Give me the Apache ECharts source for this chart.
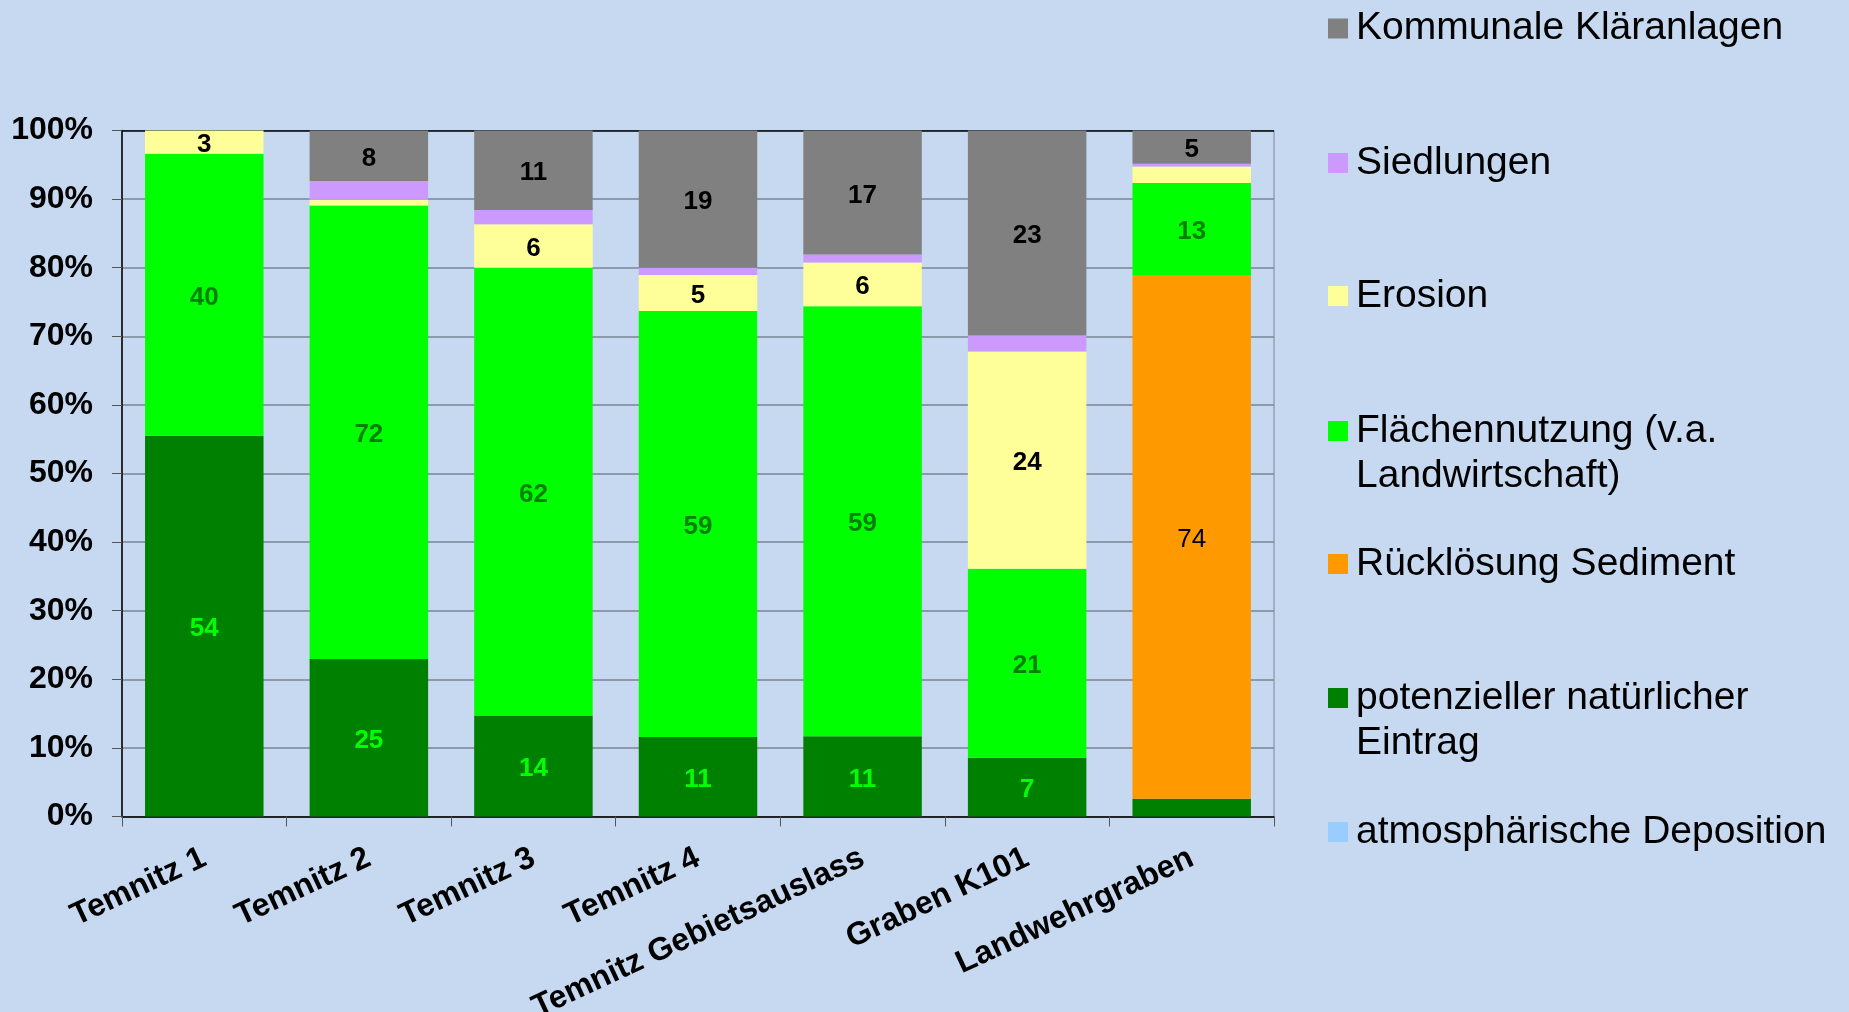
<!DOCTYPE html>
<html><head><meta charset="utf-8">
<script src="https://cdn.jsdelivr.net/npm/echarts@6/dist/echarts.min.js"></script>
<style>html,body{margin:0;padding:0;background:#C6D9F0;}#c{width:1849px;height:1012px;}</style>
</head><body><div id="c"></div><script>
// Categories (x axis)
const categories = ['Temnitz 1','Temnitz 2','Temnitz 3','Temnitz 4','Temnitz Gebietsauslass','Graben K101','Landwehrgraben'];
// Series names (bottom of stack to top)
const seriesNames = ['atmosphärische Deposition','potenzieller natürlicher Eintrag','Rücklösung Sediment','Flächennutzung (v.a. Landwirtschaft)','Erosion','Siedlungen','Kommunale Kläranlagen'];
// Raw contributions (shown 100% stacked)
const atmosDeposition = [0, 0, 0, 0, 0, 0, 0];
const naturalInput    = [54, 25, 14, 11, 11, 6.6, 2.5];
const sediment        = [0, 0, 0, 0, 0, 0, 74];
const landUse         = [40, 72, 62, 59, 59, 21.2, 13];
const erosion         = [3.3, 0.9, 6, 5, 6, 24.4, 2.3];
const settlements     = [0, 3, 2, 1, 1.1, 1.8, 0.4];
const sewagePlants    = [0, 8, 11, 19, 17, 23, 4.7];
// Y tick labels
const yTicks = [0,10,20,30,40,50,60,70,80,90,100];

const raw = [atmosDeposition, naturalInput, sediment, landUse, erosion, settlements, sewagePlants];
const colors = ['#99CCFF','#008000','#FF9900','#00FF00','#FFFF99','#CC99FF','#808080'];
const labelColors = ['#000','#00FF00','#000','#008000','#000','#000','#000'];
const labelBold = [true,true,false,true,true,true,true];
const labelShown = [false,true,true,true,true,false,true];
const totals = categories.map((c,i)=>raw.reduce((s,a)=>s+a[i],0));

const FONT = "'Liberation Sans', Arial, Helvetica, sans-serif";

const series = seriesNames.map((name,k)=>({
  name, type:'bar', stack:'all', barWidth:'72%',
  itemStyle:{color:colors[k]},
  data: raw[k].map((v,i)=>v/totals[i]*100),
  label:{show:labelShown[k], position:'inside', offset:[0,3], fontFamily:FONT, fontSize:26,
    fontWeight: labelBold[k]?'bold':'normal', color:labelColors[k],
    formatter:(p)=>{const v=raw[k][p.dataIndex]; return v>=3?String(Math.round(v)):'';}}
}));

// legend layout (order top to bottom as in reference)
const legendOrder = [6,5,4,3,2,1,0];
const legendCenters = [28.5,163,296,431,564,698,832];
const twoLine = {3:'Flächennutzung (v.a.\nLandwirtschaft)', 1:'potenzieller natürlicher\nEintrag'};
const legends = legendOrder.map((k,j)=>{
  const multi = twoLine[k]!==undefined;
  const lh = 45;
  const h = multi ? 2*lh : lh;
  return {
    show:true, orient:'vertical', left:1328, top: legendCenters[j]-lh/2, padding:0,
    selectedMode:false, itemWidth:23, itemHeight:h,
    icon:'path://M0,0L0.01,0Z M0,12.5H20V32.5H0Z M23,'+h+'L23.01,'+h+'Z',
    itemStyle:{borderWidth:0},
    data:[seriesNames[k]],
    formatter:(n)=>multi?twoLine[k]:n,
    textStyle:{fontFamily:FONT, fontSize:39, color:'#000', lineHeight:lh}
  };
});

const splitColors = yTicks.map((t,i)=> i===yTicks.length-1 ? '#000' : '#7a8494');

const chart = echarts.init(document.getElementById('c'), null, {renderer:'canvas'});
chart.setOption({
  backgroundColor:'#C6D9F0',
  animation:false,
  grid:{left:122, right:575, top:130.5, bottom:195.5, show:true, borderColor:'#7a8494', borderWidth:1, containLabel:false, outerBoundsMode:'none'},
  legend: legends,
  xAxis:{type:'category', data:categories,
    axisLine:{lineStyle:{color:'#000', width:1.5}},
    axisTick:{show:true, length:10, lineStyle:{color:'#555'}},
    axisLabel:{interval:0, rotate:25, margin:40, fontFamily:FONT, fontSize:32, fontWeight:'bold', color:'#000'}
  },
  yAxis:{type:'value', min:0, max:100, interval:10,
    axisLine:{show:true, lineStyle:{color:'#000', width:1.5}},
    axisTick:{show:true, length:10, lineStyle:{color:'#555'}},
    splitLine:{show:true, lineStyle:{color:splitColors, width:1.5}},
    axisLabel:{margin:29, fontFamily:FONT, fontSize:32, fontWeight:'bold', color:'#000', formatter:'{value}%'}
  },
  series
});
</script></body></html>
